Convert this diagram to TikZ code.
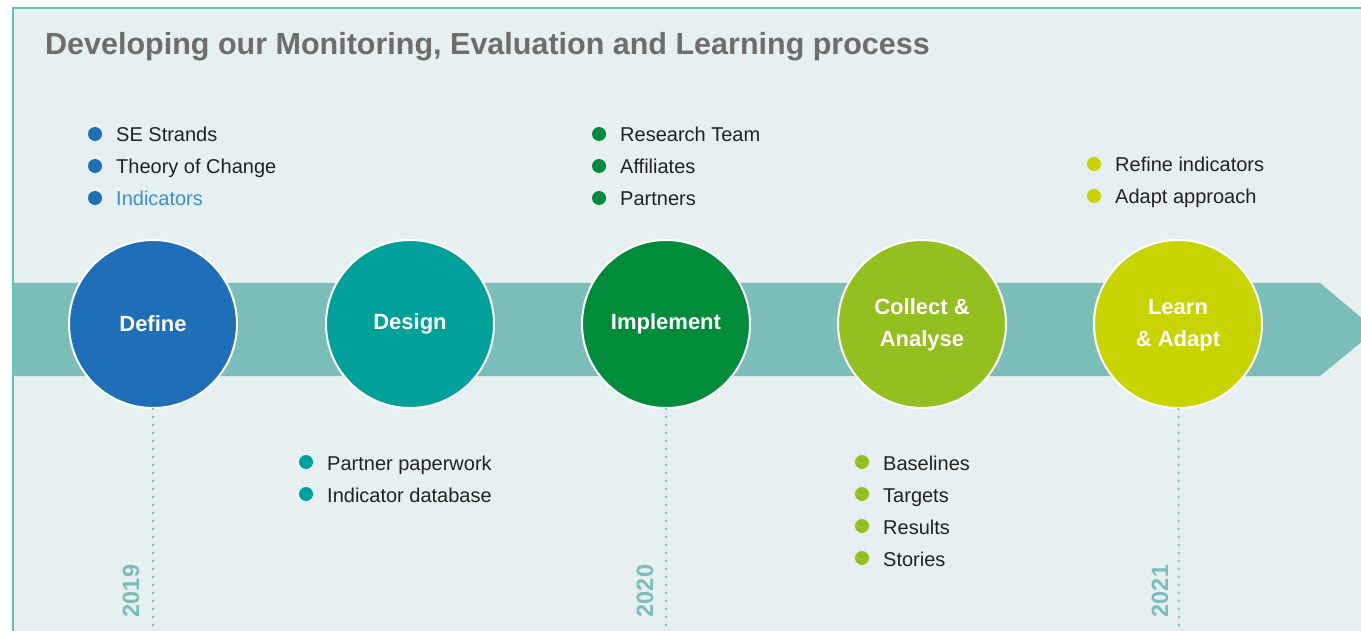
\documentclass[tikz,border=0pt]{standalone}
\usepackage{fontspec}
\setmainfont{Liberation Sans}
\usetikzlibrary{positioning}
\definecolor{bgcol}{HTML}{E6F0F0}
\definecolor{framecol}{HTML}{5EC2B7}
\definecolor{bandcol}{HTML}{7BBDB8}
\definecolor{titlecol}{HTML}{6D6D6D}
\definecolor{textcol}{HTML}{222222}
\definecolor{definecol}{HTML}{1F6FB8}
\definecolor{linkcol}{HTML}{3A8ED3}
\definecolor{designcol}{HTML}{00A19A}
\definecolor{implcol}{HTML}{008C3A}
\definecolor{collectcol}{HTML}{93C01F}
\definecolor{learncol}{HTML}{C8D400}
\tikzset{
  stage/.style = {circle, draw=white, line width=2pt, minimum size=168pt,
                  text=white, align=center, inner sep=0pt,
                  font=\fontsize{22}{32}\selectfont\bfseries},
  bullet/.style = {circle, minimum size=14pt, inner sep=0pt},
  itemtext/.style = {anchor=base west, inner sep=0pt, text=textcol,
                     font=\fontsize{20}{24}\selectfont},
  yearline/.style = {draw=bandcol, line width=2.6pt, line cap=round,
                     dash pattern=on 0pt off 8pt},
  yeartext/.style = {rotate=90, text=bandcol, inner sep=0pt,
                     font=\fontsize{23.5}{24}\selectfont\bfseries}
}
\newcommand{\stepitem}[5]{
  \node[bullet, fill=#4] (#1dot) at (#2,#3) {};
  \node[itemtext] (#1) at (#2+21,#3+8) {#5};
}

\begin{document}
\begin{tikzpicture}[x=1pt, y=-1pt]
	\useasboundingbox (0,0) rectangle (1361,631);
	\fill[bgcol] (13,8) rectangle (1361,631);
	\draw[framecol, line width=1.5pt] (13,631) -- (13,8) -- (1361,8);
	\node[anchor=base west, inner sep=0pt, text=titlecol,
	      font=\fontsize{30.5}{34}\selectfont\bfseries] (title) at (45,55)
	      {Developing our Monitoring, Evaluation and Learning process};
	\fill[bandcol] (13,283) -- (1320,283) -- (1376,330) -- (1320,376) -- (13,376) -- cycle;
	\coordinate (y19) at (153,631);
	\coordinate (y20) at (666,631);
	\coordinate (y21) at (1179,631);
	\node[stage, fill=definecol] (define) at (153,324) {Define};
	\node[stage, fill=designcol] (design) at (410,324) {Design};
	\node[stage, fill=implcol] (implement) at (666,324) {Implement};
	\node[stage, fill=collectcol] (collect) at (922,324) {\strut Collect \&\\\strut Analyse};
	\node[stage, fill=learncol] (learn) at (1178,324) {\strut Learn\\\strut\& Adapt};
	\draw[yearline] (define) -- (y19);
	\draw[yearline] (implement) -- (y20);
	\draw[yearline] (learn) -- (y21);
	\node[yeartext] (t19) at (131,591) {2019};
	\node[yeartext] (t20) at (645,591) {2020};
	\node[yeartext] (t21) at (1160,591) {2021};
	\stepitem{se}{95}{134}{definecol}{SE Strands}
	\stepitem{toc}{95}{166}{definecol}{Theory of Change}
	\stepitem{ind}{95}{198}{definecol}{\color{linkcol}Indicators}
	\stepitem{paper}{306}{462}{designcol}{Partner paperwork}
	\stepitem{db}{306}{494}{designcol}{Indicator database}
	\stepitem{team}{599}{134}{implcol}{Research Team}
	\stepitem{aff}{599}{166}{implcol}{Affiliates}
	\stepitem{part}{599}{198}{implcol}{Partners}
	\stepitem{base}{862}{462}{collectcol}{Baselines}
	\stepitem{targ}{862}{494}{collectcol}{Targets}
	\stepitem{res}{862}{526}{collectcol}{Results}
	\stepitem{stor}{862}{558}{collectcol}{Stories}
	\stepitem{refine}{1094}{164}{learncol}{Refine indicators}
	\stepitem{adapt}{1094}{196}{learncol}{Adapt approach}
\end{tikzpicture}
\end{document}
